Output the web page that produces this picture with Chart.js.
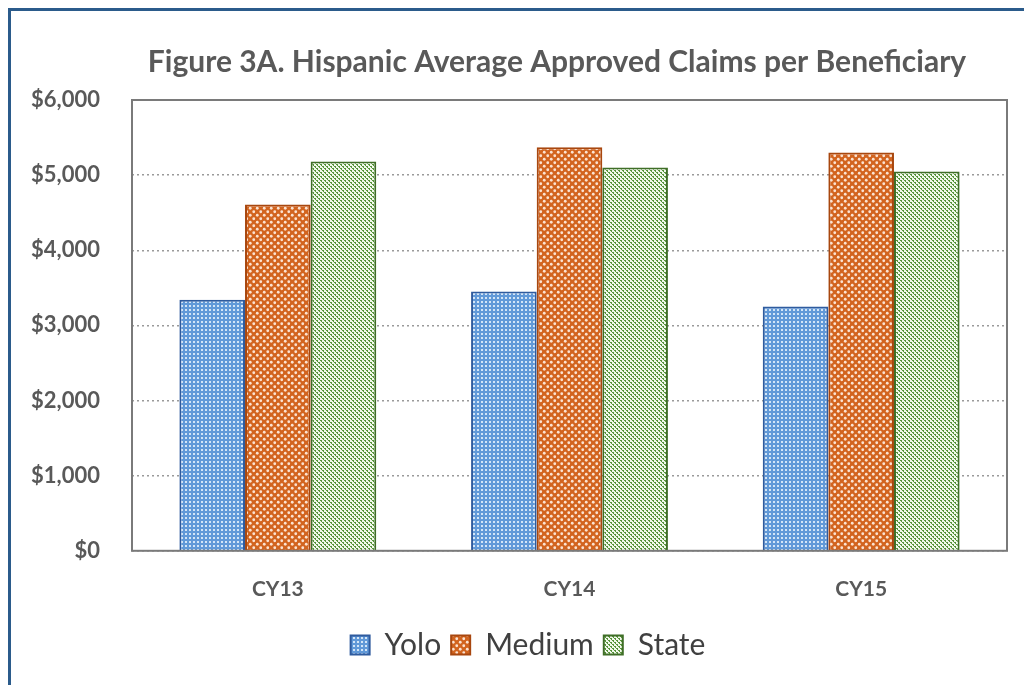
<!DOCTYPE html>
<html>
<head>
<meta charset="utf-8">
<script src="https://cdn.jsdelivr.net/npm/chart.js@4"></script>
<style>
  body { margin: 0; background: #fff; overflow: hidden; }
  #frame { position: absolute; left: 8px; top: 8px; width: 1100px; height: 800px; border: 3px solid #2b5b8b; }
  #wrap { position: absolute; left: 0; top: 0; width: 1024px; height: 685px; }
</style>
</head>
<body>
<div id="frame"></div>
<div id="wrap"><canvas id="chart" width="1024" height="685"></canvas></div>
<script>
const categories = ['CY13', 'CY14', 'CY15']
const yoloValues = [3340, 3450, 3250]
const mediumValues = [4610, 5370, 5300]
const stateValues = [5180, 5100, 5050]
const seriesNames = ['Yolo', 'Medium', 'State']
const titleText = 'Figure 3A. Hispanic Average Approved Claims per Beneficiary'

const FONT = 'Lato, "Open Sans", sans-serif'

// little tiles to mimic the Excel pattern fills
function makePattern(size, draw) {
  const c = document.createElement('canvas')
  c.width = size
  c.height = size
  const g = c.getContext('2d')
  draw(g)
  return document.getElementById('chart').getContext('2d').createPattern(c, 'repeat')
}

const bluePattern = makePattern(4, g => {
  g.fillStyle = '#6199d8'
  g.fillRect(0, 0, 4, 4)
  g.fillStyle = '#d3e5f7'
  g.fillRect(1, 1, 2, 2)
})

const orangePattern = makePattern(7, g => {
  g.fillStyle = '#d2641f'
  g.fillRect(0, 0, 7, 7)
  g.fillStyle = '#fbe3d2'
  g.beginPath(); g.arc(1.75, 1.75, 1.4, 0, Math.PI * 2); g.fill()
  g.beginPath(); g.arc(5.25, 5.25, 1.4, 0, Math.PI * 2); g.fill()
})

const greenPattern = makePattern(4, g => {
  g.fillStyle = '#f1f8ea'
  g.fillRect(0, 0, 4, 4)
  g.fillStyle = '#56933a'
  g.fillRect(0, 0, 2, 1)
  g.fillRect(1, 1, 1, 1)
  g.fillRect(2, 2, 2, 1)
  g.fillRect(3, 3, 1, 1)
})

const plotBox = {
  id: 'plotBox',
  // the original centres title and legend a bit right of the canvas middle
  afterLayout(chart) {
    if (chart.titleBlock) chart.titleBlock.left += 107
    if (chart.legend) chart.legend.left += 49
  },
  afterDatasetsDraw(chart) {
    const { ctx, chartArea: a } = chart
    ctx.save()
    ctx.strokeStyle = '#7a7a7a'
    ctx.lineWidth = 2
    ctx.strokeRect(a.left, a.top, a.right - a.left, a.bottom - a.top)
    ctx.restore()
  }
}

function dataset(label, data, fill, border) {
  return {
    label: label,
    data: data,
    backgroundColor: fill,
    borderColor: border,
    borderWidth: 2,
    borderSkipped: 'start',
    barPercentage: 1,
    categoryPercentage: 0.675
  }
}

new Chart(document.getElementById('chart'), {
  type: 'bar',
  data: {
    labels: categories,
    datasets: [
      dataset(seriesNames[0], yoloValues, bluePattern, '#2f5b9e'),
      dataset(seriesNames[1], mediumValues, orangePattern, '#a8470f'),
      dataset(seriesNames[2], stateValues, greenPattern, '#3f6e27')
    ]
  },
  options: {
    responsive: false,
    devicePixelRatio: 1,
    animation: false,
    layout: { padding: { left: 0, right: 17, top: 0, bottom: 15 } },
    plugins: {
      tooltip: { enabled: false },
      title: {
        display: true,
        text: titleText,
        color: '#595959',
        font: { family: FONT, size: 30, weight: 'bold' },
        padding: { top: 44, bottom: 20 }
      },
      legend: {
        position: 'bottom',
        labels: {
          color: '#404040',
          font: { family: FONT, size: 30 },
          boxWidth: 19,
          boxHeight: 19,
          padding: 10
        }
      }
    },
    scales: {
      x: {
        grid: { display: false },
        border: { display: false },
        ticks: {
          color: '#595959',
          padding: 18,
          font: { family: FONT, size: 21, weight: 'bold' }
        }
      },
      y: {
        min: 0,
        max: 6000,
        afterFit(scale) { scale.width = 132 },
        border: { display: false, dash: [2, 3] },
        grid: {
          drawTicks: false,
          color: '#9a9a9a',
          lineWidth: 1.5
        },
        ticks: {
          stepSize: 1000,
          padding: 32,
          color: '#595959',
          font: { family: FONT, size: 22, weight: 'bold' },
          callback: v => '$' + v.toLocaleString('en-US')
        }
      }
    }
  },
  plugins: [plotBox]
})
</script>
</body>
</html>
